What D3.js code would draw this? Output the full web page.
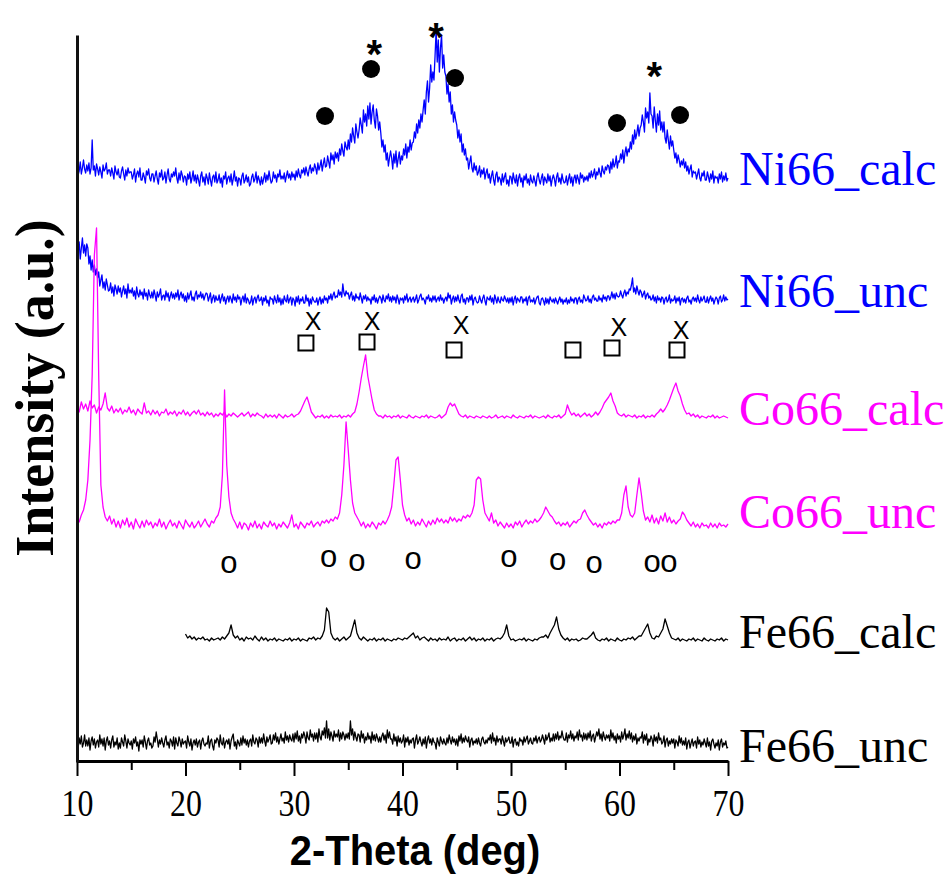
<!DOCTYPE html>
<html>
<head>
<meta charset="utf-8">
<script src="https://cdn.jsdelivr.net/npm/d3@7"></script>
<style>
  body { margin: 0; background: #fff; }
  svg { display: block; }
</style>
</head>
<body>
<div id="chart"></div>
<script>
// XRD patterns, stacked. Values are intensity (a.u.) above each pattern's own baseline.
const names = ['Ni66_calc', 'Ni66_unc', 'Co66_calc', 'Co66_unc', 'Fe66_calc', 'Fe66_unc']
const colors = ['#0000ff', '#0000ff', '#ff00ff', '#ff00ff', '#000000', '#000000']
const startDeg = [10, 10, 10, 10, 20, 10]
const steps = [0.1, 0.1, 0.2, 0.2, 0.2, 0.1]
const offsets = [582, 462, 344, 237, 121, 19]

const ni66Calc = [14, 5, 9, 18, 6, 12, 20, 11, 7, 15, 9, 17, 6, 12, 40, 10, 14, 4, 16, 11,
  5, 13, 8, 2, 15, 9, 11, 17, 6, 10, 10, 4, 12, 7, 1, 14, 8, 5, 11, 3,
  2, 9, 13, 6, 0, 10, 4, 12, 7, 8, 8, 1, 5, 11, -2, 6, 9, 3, 12, 0,
  0, 7, 3, -3, 9, 5, 11, 2, -1, 6, 6, -2, 4, 9, 1, -4, 7, 3, 10, 0,
  2, 8, -3, 5, 11, 1, -2, 6, 3, 8, 4, 12, 2, -3, 7, 0, 9, 5, -2, 4,
  3, -5, 6, 1, 8, -3, 2, 9, -1, 5, -3, 5, 0, -6, 4, 8, -2, 3, -5, 6,
  2, -4, 7, 0, -6, 3, 5, -2, 8, -3, 0, 6, -3, 2, -7, 4, 1, 8, -4, 2,
  4, -2, 6, -5, 1, 9, -1, 3, -6, 2, 1, -5, 4, 7, -3, 0, 5, -2, 3, -6,
  -4, 3, 6, -2, 1, 8, -3, 4, 0, -5, 3, -4, 1, 7, -2, 5, 0, 9, 2, -3,
  -1, 8, 2, 5, -2, 6, 3, 10, 1, 4, 1, 7, -2, 4, 9, 2, 6, 0, 8, 3,
  6, 0, 9, 3, 11, 5, 2, 10, 7, 12, 5, 13, 8, 4, 11, 15, 7, 12, 9, 16,
  12, 6, 17, 10, 14, 20, 9, 16, 22, 13, 14, 24, 18, 12, 27, 20, 25, 16, 28, 22,
  27, 19, 31, 25, 36, 29, 24, 38, 33, 30, 40, 31, 46, 38, 52, 44, 37, 56, 48, 42,
  50, 62, 55, 47, 70, 58, 66, 54, 74, 61, 77, 56, 68, 75, 60, 52, 71, 64, 50, 58,
  47, 33, 40, 28, 35, 20, 27, 14, 22, 29, 22, 11, 26, 17, 29, 13, 21, 28, 16, 24,
  20, 31, 25, 36, 22, 33, 28, 40, 30, 37, 38, 48, 42, 56, 47, 60, 52, 66, 58, 70,
  80, 66, 88, 99, 78, 92, 115, 98, 108, 100, 124, 150, 118, 140, 108, 132, 145, 112, 125, 108,
  104, 86, 96, 78, 88, 66, 75, 58, 68, 60, 55, 42, 50, 38, 46, 28, 36, 25, 31, 20,
  22, 11, 18, 24, 12, 8, 17, 10, 14, 5, 8, 14, 3, 10, 6, 12, 1, 7, 11, 2,
  6, -3, 4, 9, 0, -5, 5, 8, -2, 3, 1, -5, 6, -2, 3, 7, -4, 0, -6, 4,
  3, -4, 7, 1, -3, 5, -6, 2, 6, -2, 2, -7, 4, 0, 6, -3, 1, -5, 5, -1,
  -3, 4, -1, -6, 3, 7, 0, -4, 2, 6, -5, 3, 0, -3, 6, -1, 4, -6, 1, 5,
  1, -6, 3, 7, -2, 2, -4, 6, 0, -3, -2, 4, -5, 1, 6, -3, 3, -6, 2, 5,
  -3, 5, 1, -4, 7, 2, 5, -2, 3, 0, 4, -1, 7, 2, 9, 3, 6, 11, 1, 8,
  5, 12, 7, 3, 14, 9, 6, 13, 10, 15, 14, 7, 18, 11, 21, 13, 16, 24, 12, 19,
  18, 26, 21, 30, 17, 27, 33, 24, 31, 28, 38, 31, 45, 36, 50, 41, 47, 55, 44, 52,
  55, 65, 58, 48, 72, 62, 68, 57, 87, 66, 64, 52, 73, 60, 48, 66, 55, 69, 50, 58,
  48, 58, 42, 37, 50, 40, 31, 44, 34, 39, 30, 22, 27, 17, 25, 20, 13, 19, 15, 21,
  12, 18, 9, 14, 6, 11, 15, 3, 9, 7, 8, 1, 6, 11, 2, -1, 7, 4, 9, 0,
  0, 8, 3, -2, 6, 1, 9, -3, 4, 2, 3, -3, 6, 1, 8, -2, 4, 0, 7, -1, 2]

const ni66Unc = [30, 48, 58, 41, 52, 62, 47, 55, 44, 56, 52, 36, 44, 30, 40, 28, 35, 25, 31, 22,
  28, 14, 20, 25, 12, 18, 10, 21, 15, 9, 10, 17, 7, 13, 4, 15, 11, 6, 14, 8,
  12, 3, 9, 14, 6, 11, 2, 16, 7, 10, 7, 12, 4, 9, 1, 13, 6, 3, 10, 5,
  8, 1, 11, 4, 7, 0, 10, 5, 2, 8, 2, 10, 5, -1, 8, 3, 6, 11, 0, 4,
  5, 0, 9, 3, 7, -1, 4, 8, 2, 6, 1, 7, 3, 10, 0, 5, 8, 2, 6, -1,
  4, -2, 7, 1, 5, 9, 0, 3, -1, 6, 9, 1, 5, 3, 8, 2, 6, 0, 4, 7,
  6, -1, 3, 7, -3, 2, 5, -2, 4, 0, 0, 5, -3, 2, 6, -1, 3, -4, 1, 4,
  -2, 4, 1, -3, 6, 0, 3, -2, 5, 1, 3, -5, 1, 4, -2, 6, -3, 2, 0, -4,
  -2, 4, -5, 1, 3, -3, 2, 5, -1, 0, 3, -5, 2, -1, 4, -3, 0, -6, 3, 1,
  1, -4, 4, 0, -3, 5, -2, 2, -5, 1, -4, 4, 0, -2, 5, -3, 1, 3, -5, 2,
  0, -6, 3, -2, 4, -4, 1, -1, 3, -3, -3, 5, -1, 2, -6, 1, -4, 3, 0, -2,
  -2, 2, -5, 0, 3, -4, 1, -3, 4, 0, 2, -3, 4, 1, 6, 0, 5, 8, 2, 4,
  3, 10, 5, 8, 3, 16, 7, 4, 9, 6, 7, 1, 5, 8, 0, 4, -1, 6, 2, 3,
  0, 7, 2, -3, 4, 1, 5, -1, 3, 0, 1, -4, 3, 0, 5, -2, 2, -3, 1, 4,
  2, -3, 5, 0, -2, 4, 1, 6, -1, 3, -2, 4, 0, 3, -3, 5, 1, -4, 2, 0,
  2, -3, 4, 0, 6, -2, 1, 3, -2, 1, 3, -2, 1, 5, -3, 0, 4, 6, 0, 2,
  0, -4, 3, 1, 5, -1, 2, -2, 4, 0, 4, -2, 1, 3, -1, 5, 0, 2, -3, 1,
  3, -1, 7, 2, 5, -4, 1, 4, -2, 3, -1, 5, 0, -3, 4, 6, -2, 1, -4, 2,
  2, -2, 4, 0, 5, -5, 1, 3, -1, -3, -2, 4, 0, -3, 2, 5, -1, -5, 3, 1,
  0, 4, -2, 2, -4, 5, 1, -3, 3, -1, -3, 3, 0, -1, 4, 1, -2, 2, -3, 2,
  -2, 3, -5, 1, 4, -3, 2, 0, -2, 3, 3, -3, 1, -1, 3, -5, 2, 4, -2, 0,
  -2, 2, -4, 0, 3, 4, -3, -5, 1, 2, -1, -5, 2, -3, 1, -4, 3, 0, -2, 1,
  -3, 2, -1, -4, 0, 3, -2, 1, -4, 0, -2, 2, -4, 0, -3, 3, -1, 1, -3, 2,
  2, -4, 1, 3, -2, 0, -3, 5, 2, -1, 0, 4, -2, 1, -3, 3, 5, 0, 2, -1,
  -1, 4, 0, 2, -2, 5, 1, 3, -1, 4, 4, 0, 3, 8, 2, 6, 1, 7, 4, 3,
  4, 9, 5, 2, 7, 10, 4, 8, 6, 11, 10, 15, 22, 8, 12, 6, 14, 9, 5, 10,
  8, 3, 6, 9, 1, 5, 7, 2, 4, 0, 1, 5, -1, 3, -3, 4, 0, 2, -2, 3,
  2, -4, 1, 3, -2, 0, 5, -3, 1, -1, 0, 4, -3, 2, -1, 3, -5, 1, 2, -2,
  1, -3, 2, 4, -2, 0, -4, 1, 3, -1, 2, -2, 5, 0, -3, 3, -1, 1, 4, -2,
  -2, 3, -3, 1, 4, -1, 2, -4, 0, 3, 1, -4, 2, 4, -2, 0, 5, -1, 3, 0, 1]

const co66Calc = [12, 6, 16, 9, 14, 7, 17, 10, 13, 5, 11, 8, 14, 25, 10, 7, 12, 5, 9, 6, 10, 4, 8, 6, 11, 5, 8, 3, 9, 6,
  4, 15, 5, 7, 3, 8, 4, 7, 2, 6, 5, 9, 3, 6, 4, 7, 2, 6, 4, 8, 3, 6, 2, 5, 7, 4, 8, 3, 5, 2,
  6, 3, 5, 1, 4, 2, 5, 3, 6, 1, 4, 2, 5, 3, 1, 3, 5, 2, 4, 6, 1, 4, 2, 5, 3, 2, 0, 4, 1, 3,
  1, 3, 0, 4, 2, 0, 3, 1, 2, 4, 1, 3, 4, 7, 12, 17, 21, 14, 6, 3, 0, 2, 1, 3, 0, 2, 0, 3, 1, 2,
  1, 3, 0, 2, 1, 3, 1, 4, 6, 14, 26, 40, 52, 63, 42, 30, 18, 8, 4, 2, 2, 0, 3, 1, 2, 0, 2, 1, 3, 0,
  2, 1, 0, 3, 1, 0, 2, 1, 0, 2, 1, 3, 0, 2, 1, 0, 1, 3, 0, 2, 4, 11, 15, 12, 14, 9, 4, 2, 1, 3,
  0, 2, 1, 0, 2, 1, 0, 2, 1, 0, 2, 0, 1, 3, 0, 1, 2, 0, 2, 1, 0, 3, 1, 0, 2, 1, 0, 2, 1, 3,
  0, 2, 1, 0, 1, 2, 0, 3, 1, 0, 2, 1, 3, 0, 2, 4, 13, 7, 3, 5, 2, 4, 1, 3, 5, 2, 4, 1, 3, 6,
  3, 6, 10, 15, 18, 21, 25, 17, 12, 5, 3, 2, 4, 1, 3, 2, 1, 3, 0, 2, 1, 3, 0, 2, 1, 3, 1, 4, 6, 9,
  6, 9, 13, 18, 24, 30, 35, 27, 22, 14, 8, 4, 5, 2, 4, 1, 3, 0, 2, 1, 0, 2, 1, 3, 0, 2, 0, 1, 2, 1, 0]

const co66Unc = [8, 3, 10, 15, 25, 45, 85, 150, 270, 297, 150, 40, 18, 8, 4, 9, 1, 6, -2, 4, -3, 5, 0, 7, -2, 3, -4, 6, 1, -3,
  4, -2, 5, 0, 3, -3, 2, -1, 6, -2, 3, -4, 1, 5, -1, 2, -3, 4, 0, -4, 5, 1, -2, 3, -3, 0, 4, -2, 2, 6,
  1, -2, 4, 2, 7, 10, 18, 50, 135, 60, 28, 12, 6, 2, -3, 3, -4, 2, 0, -5, 2, -2, 4, -3, 1, -4, 3, 0, -2, 4,
  -1, 2, -4, 1, -2, 3, 0, -3, 2, 10, -2, 1, -4, 3, 0, -3, 2, 0, 4, -2, 1, 3, -1, 4, 2, 5, 2, 6, 4, 8,
  6, 12, 30, 60, 103, 75, 45, 22, 12, 8, 4, -1, 3, -3, 1, -2, 3, 0, -4, 2, 0, 4, 1, 5, 10, 18, 40, 65, 68, 45,
  20, 10, 4, 7, 1, 5, -1, 3, 0, 6, 2, -2, 4, 0, 5, 1, 7, 3, 6, 2, 5, 2, 8, 4, 7, 3, 6, 4, 9, 7,
  10, 8, 12, 20, 45, 48, 46, 25, 12, 8, 4, 12, 2, 5, -1, 3, 0, -3, 2, -2, 1, -3, 3, 0, 4, -2, 2, 5, 1, 4,
  2, 6, 3, 5, 8, 12, 18, 14, 10, 8, 4, 1, 3, -1, 2, 0, 3, -2, 1, 4, 2, 5, 6, 12, 15, 10, 6, 3, 0, 2,
  -2, 1, -3, 2, 0, 3, 1, 4, 2, 5, 5, 12, 30, 39, 18, 10, 8, 12, 30, 47, 32, 14, 5, 8, 3, 10, 2, 7, 1, 9,
  4, 12, 3, 8, 2, 5, 1, 4, 6, 13, 10, 5, 2, -1, 3, -2, 1, -3, 2, -1, 0, -3, 2, -2, 1, -3, 2, -1, 0, -2, 1]

const fe66Calc = [7, 3, 5, 2, 4, 1, 3, 2, 4, 1, 2, 0, 3, 1, 2, 3, 1, 4, 2, 5, 8, 16, 6, 3, 5,
  1, 3, 0, 4, 2, 3, 1, 5, 2, 0, 4, 1, 3, 0, 2, 1, 3, 0, 2, 1, 0, 2, 1, 3, 0,
  2, 1, 3, 0, 2, 1, 0, 3, 2, 4, 1, 3, 2, 5, 11, 33, 29, 8, 3, 1, 3, 0, 2, 4, 1,
  3, 5, 13, 21, 8, 3, 1, 4, 2, 0, 2, 1, 3, 0, 2, 1, 3, 0, 2, 1, 0, 2, 1, 3, 2,
  1, 3, 2, 4, 6, 8, 3, 5, 1, 3, 4, 2, 0, 3, 1, 2, 0, 3, 1, 2, 1, 4, 0, 2, 3,
  0, 2, 1, 3, 0, 2, 4, 1, 3, 0, 2, 1, 3, 0, 2, 1, 3, 0, 2, 3, 2, 4, 8, 16, 5,
  1, 2, 0, 1, 2, 1, 3, 0, 2, 1, 0, 2, 1, 3, 4, 4, 6, 3, 8, 12, 16, 24, 12, 6, 3,
  1, 3, 0, 2, 1, 2, 0, 1, 3, 2, 2, 4, 6, 9, 3, 1, 0, 2, 1, 3, 0, 2, 1, 0, 3,
  1, 0, 2, 1, 3, 2, 4, 1, 3, 5, 5, 9, 13, 17, 8, 3, 2, 5, 4, 8, 12, 22, 15, 8, 3,
  2, 1, 3, 0, 2, 1, 0, 2, 1, 3, 0, 2, 1, 0, 3, 1, 0, 2, 1, 0, 2, 1, 3, 0, 2, 1]

const fe66Unc = [2, -6, 5, -1, 7, -4, 0, 8, -3, 3, -3, 5, -7, 2, 6, -2, 4, -5, 1, 3,
  -4, 8, -1, 4, -3, 5, -7, 2, 6, -2, 2, -5, 3, 7, -4, 1, -2, 5, -6, 0,
  -5, 5, 1, -3, 8, 2, -5, 4, 0, -2, 2, -6, 4, 0, 6, -3, 1, -8, 3, -1,
  3, -4, 7, 1, -6, 2, 5, -2, 0, -5, -3, 6, 1, 11, 4, -4, 3, -1, 5, 0,
  -4, 3, 7, -2, 1, -5, 4, 2, -3, 6, -6, 5, 0, -3, 6, 2, -4, 4, -1, 1,
  2, -5, 7, 1, -3, 4, -7, 0, 3, -2, 4, -4, 1, 3, -6, 2, 5, -1, -3, 0,
  -1, 7, -5, 2, 4, -3, -7, 3, 0, 5, 3, -4, 8, 0, -2, 5, -5, 1, 3, -1,
  4, -6, 2, 6, 9, -3, 1, -6, 3, 0, -3, 5, -2, 7, 0, 4, -2, 3, -4, 2,
  4, -3, 8, 1, -1, 5, 3, -4, 6, 0, 5, 0, 9, 2, -3, 6, 1, 4, 8, -1,
  0, 8, 3, 10, 1, 6, -1, 4, 9, 2, 5, 0, 11, 3, 7, 1, 8, 4, 2, 9,
  1, 10, 4, 12, 2, 7, 0, 9, 5, 11, 7, 0, 11, 5, 3, 13, 6, 9, 2, 10,
  4, 10, 1, 14, 6, 3, 12, 8, 15, 5, 22, 5, 14, 3, 11, 7, 2, 12, 6, 9,
  6, 13, 2, 10, 4, 11, 8, 3, 9, 5, 10, 4, 22, 8, 14, 3, 11, 6, 2, 9,
  8, 1, 12, 5, 9, 0, 6, 3, 10, 4, 7, 0, 11, 3, 8, 2, 9, 5, 1, 6,
  1, 7, 10, 3, 8, 0, 13, 5, 11, 4, 4, -1, 9, 2, 6, -3, 7, 1, 5, 0,
  2, 8, -4, 5, 1, 6, -2, 3, 0, 4, 5, -5, 3, 8, -1, 2, 6, 1, -3, 4,
  -1, 6, -5, 3, 7, 0, 4, -2, 5, 1, 0, -6, 5, 1, -3, 6, 2, -1, 4, 0,
  -2, 5, 0, 8, 3, -1, 6, 1, 4, -2, 4, -3, 7, 2, 9, 0, 5, 1, 7, 3,
  1, 6, -4, 3, 5, -2, 2, 0, 4, -1, 5, 0, -3, 4, 6, 1, -1, 3, 0, 5,
  3, 8, 0, 10, 2, 5, -2, 7, 1, 4, 4, -1, 7, 2, -3, 5, 1, 3, 6, 0,
  0, 6, -4, 3, 4, -2, 1, -3, 5, 2, 3, -2, 6, 1, 4, 7, -1, 2, 5, 0,
  -1, 5, 2, 7, 0, 4, 6, 1, 3, 8, 4, -1, 8, 3, 6, 10, 1, 5, 2, 9,
  2, 9, 4, 11, 3, 7, 5, 12, 6, 3, 3, 10, 1, 8, 5, 12, 4, 9, 2, 7,
  5, 11, 3, 13, 6, 8, 2, 10, 4, 9, 3, 10, 5, 12, 2, 7, 9, 1, 6, 11,
  7, 14, 4, 9, 2, 11, 6, 3, 8, 5, 8, 2, 13, 5, 10, 3, 7, 0, 9, 4,
  7, 1, 11, 4, 8, 14, 3, 9, 5, 12, 4, 10, 1, 7, 3, 9, -1, 5, 2, 6,
  5, 11, 0, 8, 3, 9, -2, 4, 1, 7, 4, -3, 8, 2, 6, 0, 10, 3, 5, -1,
  1, 7, -4, 3, 5, -3, 2, -1, 4, 0, 4, -5, 3, 1, -3, 7, 0, 5, -2, 2,
  -2, 5, -6, 1, 3, -5, 0, 4, -3, 1, 2, -5, 6, -1, 3, -4, 1, -2, 4, 0,
  -4, 5, -3, 1, -7, 2, 4, -1, -5, 0, -3, 3, -7, 1, 4, -4, 0, -2, 2, -5, -4]

const patterns = [ni66Calc, ni66Unc, co66Calc, co66Unc, fe66Calc, fe66Unc]

// phase markers: 2-theta position and height on the intensity axis
const circleDeg = [32.86, 37.1, 44.84, 59.77, 65.58]
const circleY = [646, 693, 684, 639, 647]
const starDeg = [37.4, 43.1, 63.2]
const starY = [717, 734, 695]
const crossDeg = [31.75, 37.19, 45.39, 59.95, 65.67]
const crossY = [441, 441, 437, 435, 432]
const squareDeg = [31.1, 36.73, 44.75, 55.71, 59.31, 65.3]
const squareY = [419, 420, 412, 412, 414, 412]
const ringDeg = [24.0, 33.2, 35.8, 40.97, 49.8, 54.3, 57.65, 63.0, 64.56]
const ringY = [197, 203, 199, 201, 203, 200, 197, 198, 198]

const majorTicks = [10, 20, 30, 40, 50, 60, 70]
const minorTicks = [15, 25, 35, 45, 55, 65]

const width = 948
const height = 880
const serif = "'Liberation Serif', 'Times New Roman', serif"
const sans = "'Liberation Sans', Arial, sans-serif"

const svg = d3.select('#chart').append('svg')
  .attr('width', width)
  .attr('height', height)

const x = d3.scaleLinear().domain([10, 70]).range([77, 728])
const y = d3.scaleLinear().domain([0, 727]).range([762, 35])

// Patterns
const line = d3.line()
  .x(d => x(d.deg))
  .y(d => y(d.v))

patterns.forEach((vals, k) => {
  const pts = vals.map((v, i) => ({ deg: startDeg[k] + i * steps[k], v: offsets[k] + v }))
  svg.append('path')
    .datum(pts)
    .attr('d', line)
    .attr('fill', 'none')
    .attr('stroke', colors[k])
    .attr('stroke-width', 1.3)
    .attr('stroke-linejoin', 'round')
})

// Pattern names, right of the plot
const labelDy = [5, 7, 7, 3, 7, 19]
svg.selectAll('text.name')
  .data(names)
  .enter().append('text')
  .attr('class', 'name')
  .attr('x', 739)
  .attr('y', (d, i) => y(offsets[i]) + labelDy[i])
  .attr('fill', (d, i) => colors[i])
  .style('font', `48px ${serif}`)
  .text(d => d)

// Markers
svg.selectAll('circle.dot')
  .data(circleDeg)
  .enter().append('circle')
  .attr('class', 'dot')
  .attr('cx', d => x(d))
  .attr('cy', (d, i) => y(circleY[i]))
  .attr('r', 9)
  .attr('fill', '#000')

svg.selectAll('text.star')
  .data(starDeg)
  .enter().append('text')
  .attr('class', 'star')
  .attr('x', d => x(d))
  .attr('y', (d, i) => y(starY[i]) + 23)
  .attr('text-anchor', 'middle')
  .style('font', `bold 40px ${sans}`)
  .text('*')

svg.selectAll('text.cross')
  .data(crossDeg)
  .enter().append('text')
  .attr('class', 'cross')
  .attr('x', d => x(d))
  .attr('y', (d, i) => y(crossY[i]) + 9)
  .attr('text-anchor', 'middle')
  .style('font', `25px ${sans}`)
  .text('X')

svg.selectAll('rect.sq')
  .data(squareDeg)
  .enter().append('rect')
  .attr('class', 'sq')
  .attr('x', d => x(d) - 7.5)
  .attr('y', (d, i) => y(squareY[i]) - 7.5)
  .attr('width', 15)
  .attr('height', 15)
  .attr('fill', 'none')
  .attr('stroke', '#000')
  .attr('stroke-width', 2)

svg.selectAll('text.ring')
  .data(ringDeg)
  .enter().append('text')
  .attr('class', 'ring')
  .attr('x', d => x(d))
  .attr('y', (d, i) => y(ringY[i]) + 8)
  .attr('text-anchor', 'middle')
  .style('font', `31px ${sans}`)
  .text('o')

// Axes
const xAxis = svg.append('g')
  .attr('transform', `translate(0,${y(0) - 1})`)
  .call(d3.axisBottom(x).tickValues(majorTicks).tickSize(15).tickSizeOuter(0).tickPadding(13).tickFormat(d3.format('d')))
xAxis.select('.domain').attr('stroke-width', 3)
xAxis.selectAll('.tick line').attr('stroke-width', 2)
xAxis.selectAll('.tick text')
  .attr('transform', 'scale(0.84,1)')
  .attr('fill', '#000')
  .style('font', `38px ${serif}`)

const xMinor = svg.append('g')
  .attr('transform', `translate(0,${y(0) - 1})`)
  .call(d3.axisBottom(x).tickValues(minorTicks).tickSize(9).tickSizeOuter(0).tickFormat(''))
xMinor.select('.domain').remove()
xMinor.selectAll('.tick line').attr('stroke-width', 2)

const yAxis = svg.append('g')
  .attr('transform', 'translate(77,0)')
  .call(d3.axisLeft(y).tickValues([]).tickSizeOuter(0))
yAxis.select('.domain').attr('stroke-width', 3).attr('stroke', '#111')

// Axis titles
svg.append('text')
  .attr('transform', 'translate(415,865) scale(0.95,1)')
  .attr('text-anchor', 'middle')
  .style('font', `bold 42px ${sans}`)
  .text('2-Theta (deg)')

svg.append('text')
  .attr('transform', 'translate(53,388) rotate(-90)')
  .attr('text-anchor', 'middle')
  .style('font', `bold 54px ${serif}`)
  .text('Intensity (a.u.)')
</script>
</body>
</html>
